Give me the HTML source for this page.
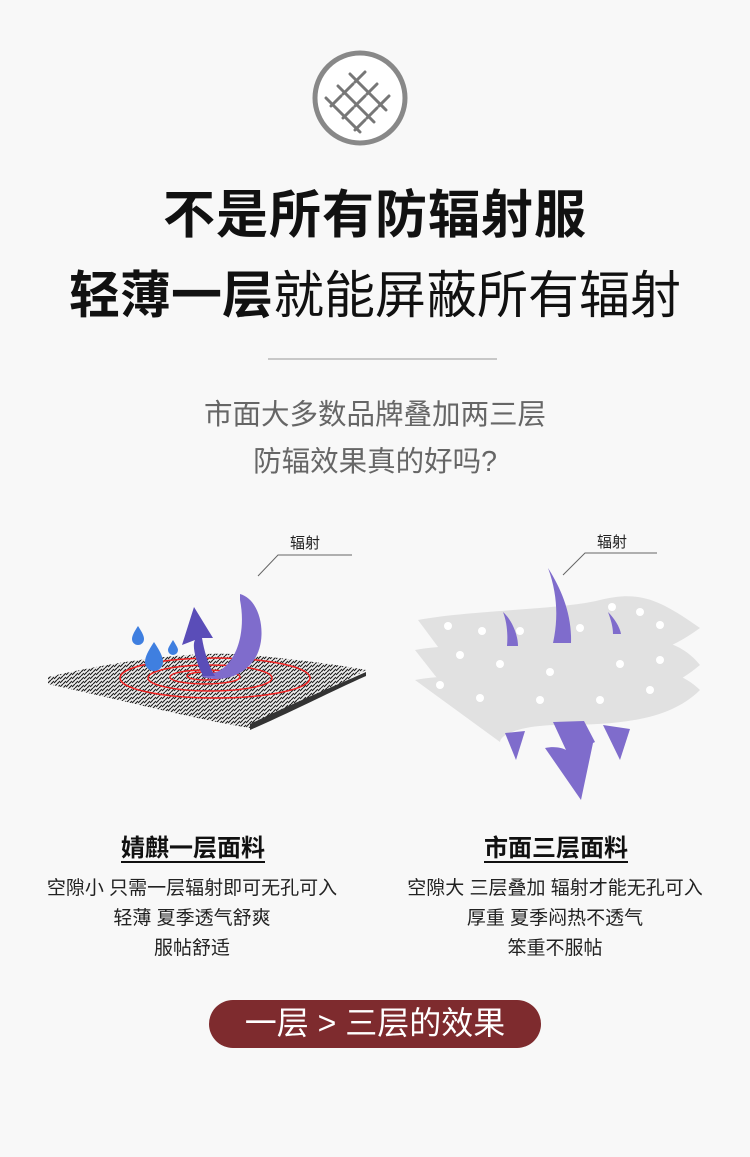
<!DOCTYPE html>
<html><head><meta charset="utf-8"><style>
body{margin:0;width:750px;height:1157px;background:#f8f8f8;font-family:"Liberation Sans","Noto Sans CJK SC",sans-serif;position:relative;overflow:hidden}
.a{position:absolute;left:0;width:750px;text-align:center;white-space:nowrap}
.t{font-size:51px;color:#111;line-height:60px}
.s{font-size:28.5px;color:#666;line-height:34px}
.h{position:absolute;font-size:24px;font-weight:bold;color:#111;text-decoration:underline;text-underline-offset:5px;text-align:center;width:300px}
.b{position:absolute;font-size:19px;color:#222;text-align:center;width:380px;line-height:30px;white-space:nowrap}
</style></head><body>
<svg style="position:absolute;left:0;top:0" width="750" height="1157">
<defs><pattern id="p" width="6" height="4" patternUnits="userSpaceOnUse"><rect width="6" height="4" fill="#eee"/><path d="M0 3L3 0M3 4L6 1" stroke="#222" stroke-width="1.2"/></pattern></defs>
<circle cx="360" cy="98" r="45" fill="#fff" stroke="#888" stroke-width="5"/>
<g stroke="#777" stroke-width="3" stroke-linecap="round">
<path d="M350 74l12 12M338 86l12 12M326 98l12 12M362 86l12 12M350 98l12 12M338 110l12 12M374 98l12 12M362 110l12 12M350 122l10 10"/>
<path d="M365 72l-10 10M377 84l-10 10M389 96l-10 10M353 84l-10 10M365 96l-10 10M377 108l-10 10M341 96l-10 10M353 108l-10 10M365 120l-10 10"/>
</g>
<line x1="268" y1="359" x2="497" y2="359" stroke="#999" stroke-width="1"/>
<path d="M258 576L278 555H352" fill="none" stroke="#666"/>
<path d="M48 677C120 660 200 650 250 655C300 660 340 665 366 670C330 690 300 700 250 728C200 720 120 700 48 684Z" fill="url(#p)"/>
<path d="M250 724C300 700 330 688 366 672L366 676C330 692 300 708 250 730Z" fill="#333"/>
<g fill="none" stroke="#e22" stroke-width="1.5">
<ellipse cx="215" cy="678" rx="95" ry="20"/><ellipse cx="210" cy="678" rx="62" ry="13"/><ellipse cx="205" cy="677" rx="35" ry="7"/><ellipse cx="205" cy="676" rx="18" ry="4"/>
</g>
<path d="M240 594C262 600 268 640 254 660C240 680 215 682 200 676L217 672C238 662 246 630 240 600Z" fill="#7f6ccc"/>
<path d="M203 676C195 660 192 645 195 640L182 645L194 607L213 638L202 638C204 650 208 665 215 676Z" fill="#5a4db8"/>
<g fill="#3f7fe0"><path d="M138 626c-4 6-6 10-6 13a6 6 0 0012 0c0-3-2-7-6-13z"/><path d="M154 642c-6 9-9 15-9 20a9 9 0 0018 0c0-5-3-11-9-20z"/><path d="M173 640c-3 5-5 8-5 10a5 5 0 0010 0c0-2-2-5-5-10z"/></g>
<path d="M563 575L585 553H657" fill="none" stroke="#666"/>
<g fill="#ddd" opacity=".85">
<path d="M418 620C470 610 560 610 600 600C640 590 660 600 700 628C670 650 640 660 600 660C560 660 520 680 470 690Z"/>
<path d="M415 650C470 640 560 650 610 640C650 635 680 640 700 665C670 690 640 700 600 695C560 690 520 710 470 720Z"/>
<path d="M415 680C470 670 560 680 610 670C650 665 680 670 700 690C670 720 620 725 560 725C520 725 500 735 500 742Z"/>
</g>
<g fill="#fff"><circle cx="448" cy="626" r="4"/><circle cx="482" cy="631" r="4"/><circle cx="520" cy="631" r="4"/><circle cx="580" cy="628" r="4"/><circle cx="612" cy="607" r="4"/><circle cx="640" cy="612" r="4"/><circle cx="660" cy="625" r="4"/><circle cx="460" cy="655" r="4"/><circle cx="500" cy="664" r="4"/><circle cx="550" cy="672" r="4"/><circle cx="620" cy="664" r="4"/><circle cx="660" cy="660" r="4"/><circle cx="440" cy="685" r="4"/><circle cx="480" cy="698" r="4"/><circle cx="540" cy="700" r="4"/><circle cx="600" cy="700" r="4"/><circle cx="650" cy="690" r="4"/></g>
<g fill="#7f6ccc">
<path d="M548 568C562 590 572 615 571 643L553 643C558 620 558 595 548 568Z"/>
<path d="M503 612C512 620 518 635 518 646L507 646C508 635 507 622 503 612Z"/>
<path d="M608 612C614 618 620 627 621 634L613 634C613 627 611 620 608 612Z"/>
<path d="M553 722L584 721L595 742L593 743L581 800L545 748C555 746 562 748 566 750Z"/>
<path d="M505 733L525 731L516 760Z"/><path d="M603 725L630 729L620 760Z"/>
</g>
<rect x="209" y="1000" width="332" height="48" rx="24" fill="#7e2b2e"/>
</svg>
<div class="a t" style="top:186px;font-weight:bold;font-size:52px;letter-spacing:1px">不是所有防辐射服</div>
<div class="a t" style="top:266px"><b>轻薄一层</b>就能屏蔽所有辐射</div>
<div class="a s" style="top:398px">市面大多数品牌叠加两三层</div>
<div class="a s" style="top:445px">防辐效果真的好吗?</div>
<div style="position:absolute;left:290px;top:532px;font-size:15px;color:#222">辐射</div>
<div style="position:absolute;left:597px;top:531px;font-size:15px;color:#222">辐射</div>
<div class="h" style="left:43px;top:828px">婧麒一层面料</div>
<div class="h" style="left:406px;top:828px">市面三层面料</div>
<div class="b" style="left:2px;top:874px">空隙小 只需一层辐射即可无孔可入<br>轻薄 夏季透气舒爽<br>服帖舒适</div>
<div class="b" style="left:365px;top:874px">空隙大 三层叠加 辐射才能无孔可入<br>厚重 夏季闷热不透气<br>笨重不服帖</div>
<div class="a" style="top:1003px;font-size:32px;color:#fff;line-height:40px;left:0">一层 &gt; 三层的效果</div>
</body></html>
